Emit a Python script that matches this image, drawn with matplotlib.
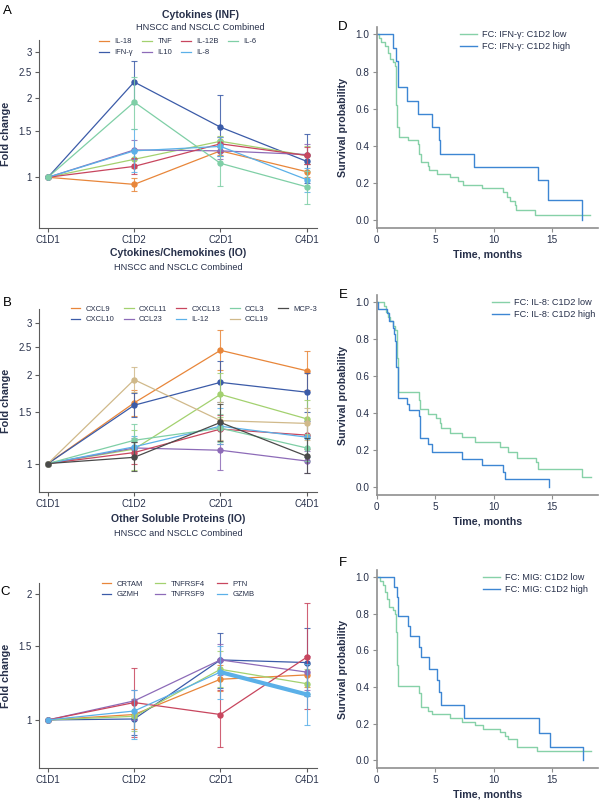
import matplotlib
matplotlib.use("Agg")
import matplotlib.pyplot as plt
import numpy as np

plt.rcParams['font.family'] = ['Liberation Sans', 'DejaVu Sans']

TXT = '#27304a'
SPINE = '#5c5c5c'

visits = ['C1D1', 'C1D2', 'C2D1', 'C4D1']

ORANGE, DBLUE, LGREEN, PURPLE = '#e8863a', '#3b5ba8', '#a3d16f', '#8d6bb8'
RED, LBLUE, MINT, TAN, GRAY = '#c8465e', '#5bb0e8', '#7fcfa6', '#d0b98a', '#4a4a4a'

# === PANEL A: Cytokines (INF) ===
a_names = ['IL-18', 'IFN-γ', 'TNF', 'IL10', 'IL-12B', 'IL-8', 'IL-6']
a_colors = [ORANGE, DBLUE, LGREEN, PURPLE, RED, LBLUE, MINT]
a_fc = [[1, 0.94, 1.26, 1.05],
        [1, 2.30, 1.55, 1.15],
        [1, 1.17, 1.37, 1.21],
        [1, 1.27, 1.26, 1.22],
        [1, 1.10, 1.34, 1.21],
        [1, 1.26, 1.31, 0.98],
        [1, 1.93, 1.13, 0.92]]
a_lo = [[1, 0.89, 1.22, 1.00],
        [1, 1.90, 1.20, 0.95],
        [1, 1.08, 1.30, 1.12],
        [1, 1.17, 1.17, 1.12],
        [1, 1.03, 1.25, 1.12],
        [1, 1.05, 1.20, 0.88],
        [1, 1.53, 0.93, 0.79]]
a_hi = [[1, 0.99, 1.30, 1.12],
        [1, 2.77, 2.05, 1.46],
        [1, 1.27, 1.43, 1.32],
        [1, 1.38, 1.36, 1.34],
        [1, 1.18, 1.42, 1.30],
        [1, 1.52, 1.42, 1.08],
        [1, 2.40, 1.38, 1.06]]

# === PANEL B: Cytokines/Chemokines (IO) ===
b_names = ['CXCL9', 'CXCL10', 'CXCL11', 'CCL23', 'CXCL13', 'IL-12', 'CCL3', 'CCL19', 'MCP-3']
b_colors = [ORANGE, DBLUE, LGREEN, PURPLE, RED, LBLUE, MINT, TAN, GRAY]
b_fc = [[1, 1.61, 2.43, 2.07],
        [1, 1.58, 1.89, 1.75],
        [1, 1.12, 1.72, 1.42],
        [1, 1.13, 1.11, 1.02],
        [1, 1.09, 1.31, 1.25],
        [1, 1.14, 1.34, 1.23],
        [1, 1.20, 1.32, 1.13],
        [1, 1.93, 1.40, 1.37],
        [1, 1.05, 1.38, 1.06]]
b_lo = [[1, 1.45, 2.08, 1.78],
        [1, 1.44, 1.62, 1.50],
        [1, 0.95, 1.44, 1.24],
        [1, 1.05, 0.95, 0.93],
        [1, 1.00, 1.17, 1.12],
        [1, 1.05, 1.17, 1.05],
        [1, 1.05, 1.18, 1.02],
        [1, 1.75, 1.20, 1.20],
        [1, 0.94, 1.19, 0.93]]
b_hi = [[1, 1.78, 2.86, 2.42],
        [1, 1.74, 2.24, 2.03],
        [1, 1.30, 2.03, 1.65],
        [1, 1.22, 1.30, 1.10],
        [1, 1.18, 1.46, 1.40],
        [1, 1.24, 1.55, 1.40],
        [1, 1.36, 1.48, 1.26],
        [1, 2.13, 1.62, 1.55],
        [1, 1.18, 1.60, 1.22]]

# === PANEL C: Other Soluble Proteins (IO) ===
c_names = ['CRTAM', 'GZMH', 'TNFRSF4', 'TNFRSF9', 'PTN', 'GZMB']
c_colors = [ORANGE, DBLUE, LGREEN, PURPLE, RED, LBLUE]
c_fc = [[1, 1.03, 1.25, 1.28],
        [1, 1.005, 1.39, 1.37],
        [1, 1.02, 1.32, 1.22],
        [1, 1.11, 1.39, 1.30],
        [1, 1.10, 1.03, 1.41],
        [1, 1.05, 1.30, 1.15]]
c_lo = [[1, 0.95, 1.17, 1.20],
        [1, 0.92, 1.19, 1.14],
        [1, 0.94, 1.20, 1.15],
        [1, 1.00, 1.28, 1.18],
        [1, 0.91, 0.86, 1.06],
        [1, 0.90, 1.12, 0.97]]
c_hi = [[1, 1.12, 1.35, 1.36],
        [1, 1.10, 1.61, 1.66],
        [1, 1.12, 1.46, 1.32],
        [1, 1.18, 1.52, 1.42],
        [1, 1.33, 1.18, 1.90],
        [1, 1.18, 1.50, 1.36]]

# === KAPLAN-MEIER CURVES (step change times, survival after step) ===
d_low_t = [0, 0.23, 0.4, 0.7, 0.95, 1.1, 1.4, 1.55, 1.62, 1.68, 1.75, 1.94, 2.7, 3.56, 3.64, 3.75,
           4.41, 4.5, 5.12, 6.26, 6.97, 7.4, 8.97, 10.8, 11.1, 11.4, 11.8, 11.9, 13.5, 18.2]
d_low_s = [1, 0.98, 0.96, 0.94, 0.90, 0.87, 0.85, 0.83, 0.80, 0.62, 0.50, 0.447, 0.43, 0.41, 0.357, 0.31,
           0.29, 0.27, 0.25, 0.23, 0.21, 0.19, 0.17, 0.15, 0.125, 0.10, 0.08, 0.055, 0.027, 0.027]
d_high_t = [0, 1.42, 1.65, 1.85, 2.56, 3.56, 4.70, 5.32, 5.40, 8.31, 13.8, 14.66, 17.5]
d_high_s = [1, 0.929, 0.857, 0.714, 0.643, 0.571, 0.5, 0.429, 0.357, 0.286, 0.214, 0.107, 0.0]

e_low_t = [0, 0.6, 0.8, 1.0, 1.1, 1.4, 1.6, 1.7, 1.78, 1.85, 3.6, 3.7, 4.4, 5.1, 5.4, 5.5, 6.26,
           7.3, 8.4, 10.5, 11.2, 11.96, 13.6, 13.8, 17.56, 18.3]
e_low_s = [1, 0.98, 0.95, 0.92, 0.90, 0.87, 0.85, 0.70, 0.55, 0.513, 0.47, 0.423, 0.396, 0.375, 0.348, 0.32, 0.294,
           0.27, 0.243, 0.216, 0.19, 0.157, 0.135, 0.095, 0.05, 0.05]
e_high_t = [0, 0.15, 0.9, 1.08, 1.35, 1.45, 1.6, 1.68, 1.78, 1.85, 2.56, 2.79, 3.6, 3.7, 4.35, 4.7,
            7.3, 9.0, 10.8, 10.96, 14.7]
e_high_s = [1, 0.966, 0.94, 0.897, 0.86, 0.83, 0.79, 0.65, 0.55, 0.48, 0.45, 0.416, 0.384, 0.263, 0.23, 0.19,
            0.153, 0.117, 0.08, 0.04, 0.0]

f_low_t = [0, 0.28, 0.57, 0.71, 0.85, 1.08, 1.42, 1.57, 1.65, 1.75, 1.85, 3.64, 3.79, 4.4, 4.7, 6.26,
           7.26, 8.4, 9.1, 10.5, 10.96, 11.24, 11.96, 13.66, 18.3]
f_low_s = [1, 0.98, 0.96, 0.92, 0.88, 0.84, 0.82, 0.80, 0.70, 0.52, 0.403, 0.367, 0.289, 0.268, 0.25, 0.23,
           0.21, 0.19, 0.168, 0.155, 0.132, 0.114, 0.072, 0.05, 0.05]
f_high_t = [0, 1.48, 1.71, 1.80, 2.65, 2.85, 3.65, 3.79, 4.5, 5.12, 5.35, 5.47, 7.49, 13.9, 14.8, 17.65]
f_high_s = [1, 0.946, 0.89, 0.788, 0.732, 0.678, 0.62, 0.562, 0.499, 0.44, 0.37, 0.304, 0.228, 0.15, 0.074, 0.0]

KM_GREEN, KM_BLUE = '#86d1a8', '#3d86d3'

W, H = 599, 800
fig = plt.figure(figsize=(W / 100, H / 100), dpi=100)


def px_axes(left, top, right, bottom):
    return fig.add_axes([left / W, 1 - bottom / H, (right - left) / W, (bottom - top) / H])


def fold_panel(ax, names, colors, fc, lo, hi, ylim, yticks, ncol, leg_anchor, leg_loc, colspace):
    x = np.arange(len(visits))
    for name, col, v, l, h in zip(names, colors, fc, lo, hi):
        v, l, h = np.array(v), np.array(l), np.array(h)
        ax.errorbar(x[1:], v[1:], yerr=[v[1:] - l[1:], h[1:] - v[1:]], fmt='none',
                    ecolor=col, elinewidth=0.8, capsize=2.4, capthick=0.8, alpha=0.85)
        ax.plot(x, v, color=col, lw=0.9, label=name)
        ax.plot(x, v, color=col, lw=0, marker='o', ms=3.6)
    ax.set_yscale('log')
    ax.set_ylim(*ylim)
    ax.set_xlim(-0.104, 3.12)
    ax.set_xticks(x)
    ax.set_xticklabels(visits)
    ax.set_yticks(yticks)
    ax.set_yticklabels([f"{t:g}" for t in yticks])
    ax.yaxis.set_minor_locator(matplotlib.ticker.NullLocator())
    for s in ['top', 'right']:
        ax.spines[s].set_visible(False)
    for s in ['left', 'bottom']:
        ax.spines[s].set_color(SPINE)
        ax.spines[s].set_linewidth(0.8)
    ax.tick_params(axis='both', direction='out', length=3, width=0.8, color=SPINE,
                   labelsize=6.9, labelcolor=TXT, pad=2)
    ax.set_ylabel('Fold change', fontsize=7.8, fontweight='bold', color=TXT)
    ax.yaxis.set_label_coords(-0.102, 0.5)
    ax.legend(ncol=ncol, loc=leg_loc, bbox_to_anchor=leg_anchor, frameon=False, fontsize=5.5,
              handlelength=1.3, handletextpad=0.7, columnspacing=colspace, labelspacing=0.45,
              borderaxespad=0, borderpad=0, labelcolor=TXT)


def km_panel(ax, low_t, low_s, high_t, high_s, marker, leg_x):
    ax.step(low_t, low_s, where='post', color=KM_GREEN, lw=1.0, label=f"FC: {marker}: C1D2 low")
    ax.step(high_t, high_s, where='post', color=KM_BLUE, lw=1.0, label=f"FC: {marker}: C1D2 high")
    ax.set_xlim(0, 18.9)
    ax.set_ylim(-0.045, 1.04)
    ax.set_xticks([0, 5, 10, 15])
    ax.set_yticks([0, 0.2, 0.4, 0.6, 0.8, 1.0])
    ax.set_yticklabels([f"{t:.1f}" for t in [0, 0.2, 0.4, 0.6, 0.8, 1.0]])
    for s in ['top', 'right']:
        ax.spines[s].set_visible(False)
    for s in ['left', 'bottom']:
        ax.spines[s].set_color('#8f8f8f')
        ax.spines[s].set_linewidth(1.2)
    ax.tick_params(axis='both', direction='out', length=3, width=0.8, color='#8f8f8f',
                   labelsize=7.2, labelcolor=TXT, pad=2)
    ax.set_ylabel('Survival probability', fontsize=7.7, fontweight='bold', color=TXT)
    ax.yaxis.set_label_coords(-0.128, 0.5)
    ax.set_xlabel('Time, months', fontsize=7.7, fontweight='bold', color=TXT, labelpad=3)
    ax.legend(loc='upper left', bbox_to_anchor=(leg_x, 0.985), frameon=False, fontsize=6.6,
              handlelength=1.9, handletextpad=0.5, labelspacing=0.35, borderaxespad=0,
              borderpad=0, labelcolor=TXT)


axA = px_axes(39, 40, 317, 228)
fold_panel(axA, a_names, a_colors, a_fc, a_lo, a_hi, (0.642, 3.32), [1, 1.5, 2, 2.5, 3], 4,
           (0.5, 1.01), 'upper center', 1.2)
axB = px_axes(39, 309, 317, 492)
fold_panel(axB, b_names, b_colors, b_fc, b_lo, b_hi, (0.80, 3.36), [1, 1.5, 2, 2.5, 3], 5,
           (1.0, 1.02), 'upper right', 1.2)
axC = px_axes(39, 583, 317, 768)
fold_panel(axC, c_names, c_colors, c_fc, c_lo, c_hi, (0.768, 2.12), [1, 1.5, 2], 3,
           (0.5, 1.015), 'upper center', 1.6)
# the GZMB segment from C2D1 to C4D1 is drawn heavier in the source figure
axC.plot(np.arange(4)[2:], c_fc[5][2:], color=LBLUE, lw=3.0, solid_capstyle='butt')

axD = px_axes(376.7, 27, 598, 228.3)
km_panel(axD, d_low_t, d_low_s, d_high_t, d_high_s, 'IFN-γ', 0.376)
axE = px_axes(376.7, 295, 598, 495)
km_panel(axE, e_low_t, e_low_s, e_high_t, e_high_s, 'IL-8', 0.52)
axF = px_axes(376.7, 570, 598, 768.3)
km_panel(axF, f_low_t, f_low_s, f_high_t, f_high_s, 'MIG', 0.48)

# titles
fig.text(200 / W, 1 - 15 / H, 'Cytokines (INF)', ha='center', va='center', fontsize=7.6,
         fontweight='bold', color=TXT)
fig.text(200 / W, 1 - 27 / H, 'HNSCC and NSCLC Combined', ha='center', va='center', fontsize=6.6, color=TXT)
fig.text(178 / W, 1 - 253 / H, 'Cytokines/Chemokines (IO)', ha='center', va='center', fontsize=7.6,
         fontweight='bold', color=TXT)
fig.text(178 / W, 1 - 268 / H, 'HNSCC and NSCLC Combined', ha='center', va='center', fontsize=6.6, color=TXT)
fig.text(178 / W, 1 - 519 / H, 'Other Soluble Proteins (IO)', ha='center', va='center', fontsize=7.6,
         fontweight='bold', color=TXT)
fig.text(178 / W, 1 - 534 / H, 'HNSCC and NSCLC Combined', ha='center', va='center', fontsize=6.6, color=TXT)

# panel letters
for letter, xp, yp in [('A', 7, 11), ('B', 7, 303), ('C', 5, 592),
                       ('D', 343, 27), ('E', 343, 295), ('F', 343, 563)]:
    fig.text(xp / W, 1 - yp / H, letter, ha='center', va='center', fontsize=9.5, color='black')

fig.savefig('out.png', dpi=100)
plt.close(fig)
